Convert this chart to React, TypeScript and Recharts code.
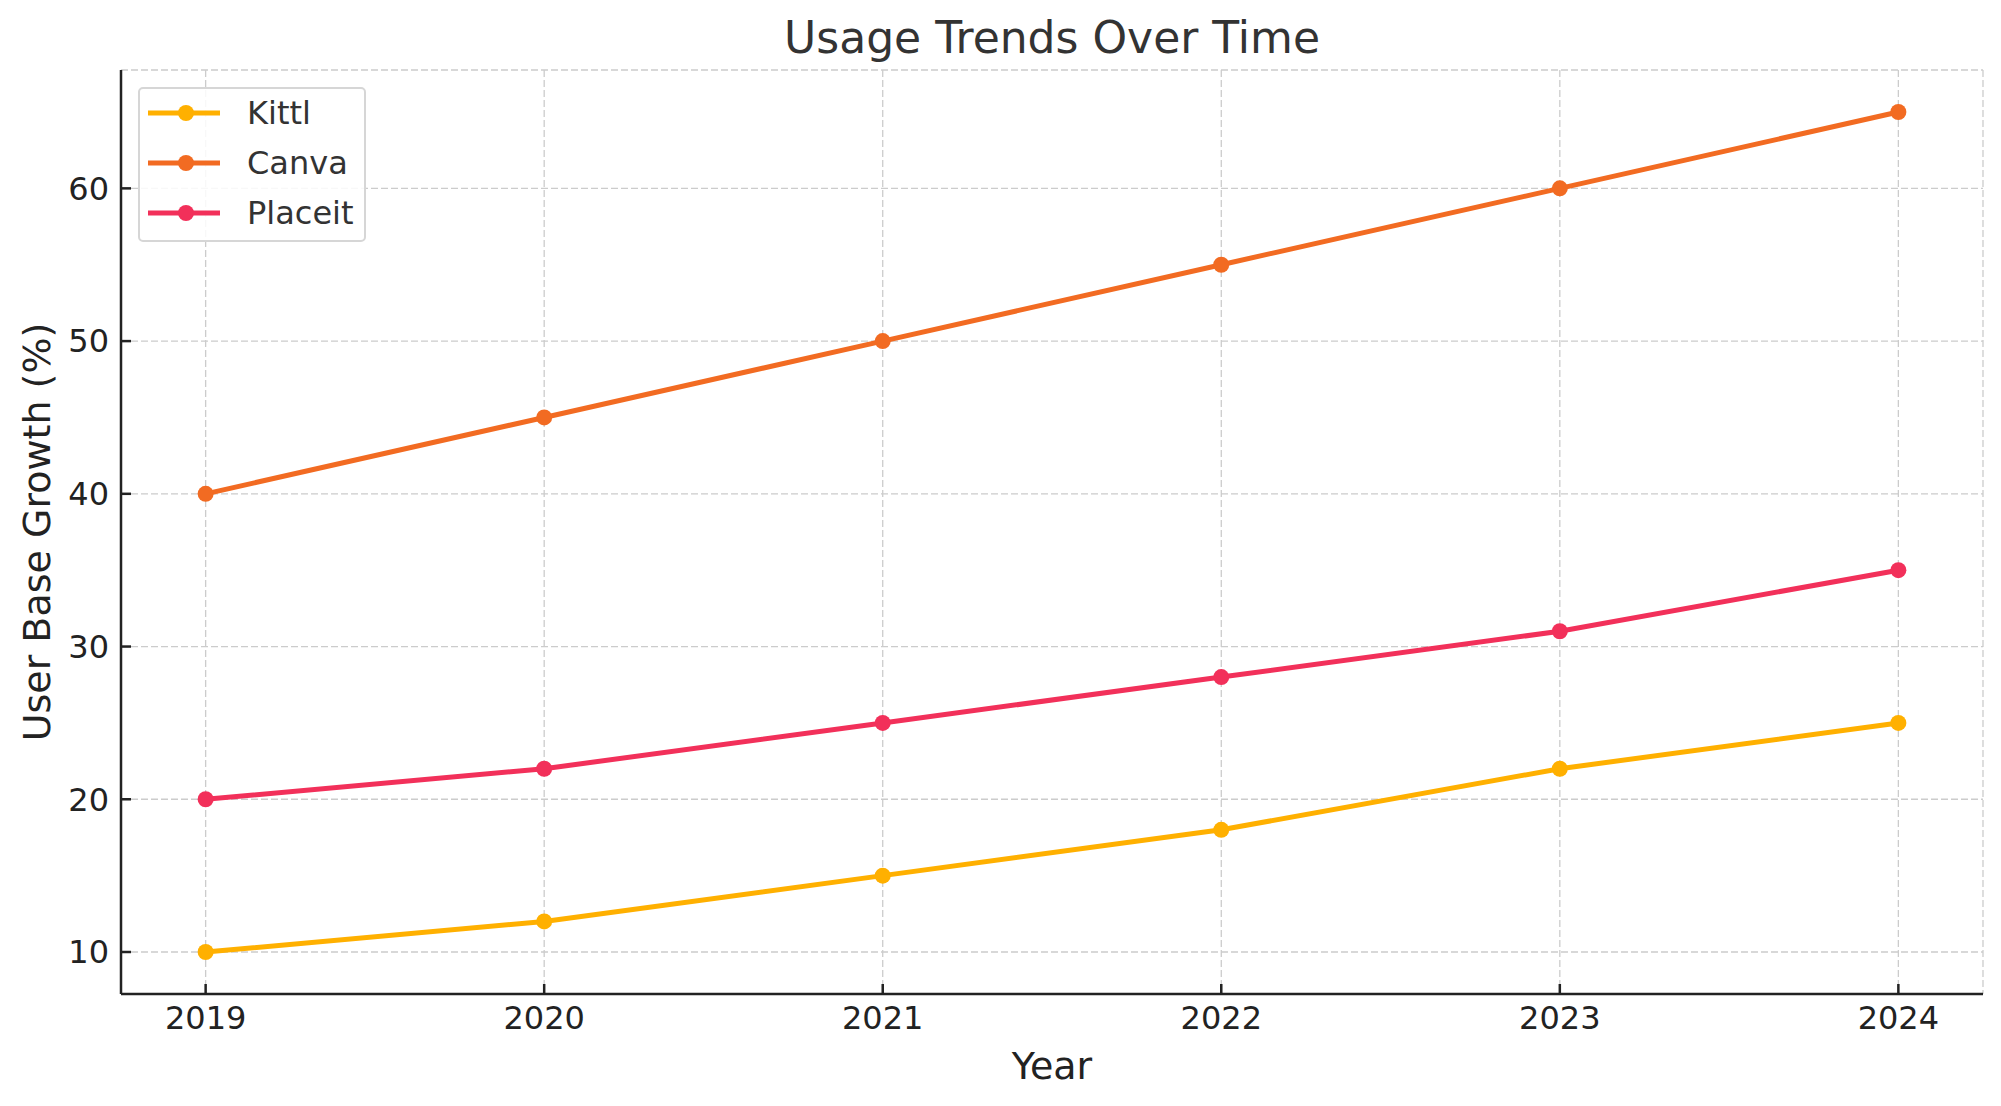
import React from 'react';
import { LineChart, Line, XAxis, YAxis, CartesianGrid, Legend } from 'recharts';

const years = [2019, 2020, 2021, 2022, 2023, 2024];
const kittl = [10, 12, 15, 18, 22, 25];
const canva = [40, 45, 50, 55, 60, 65];
const placeit = [20, 22, 25, 28, 31, 35];
const yTicks = [10, 20, 30, 40, 50, 60];

const seriesNames = ['Kittl', 'Canva', 'Placeit'];
const seriesColors = ['#FFB000', '#F26B22', '#F2305A'];

const data = years.map((y, i) => ({ year: y, Kittl: kittl[i], Canva: canva[i], Placeit: placeit[i] }));

const FONT = '"DejaVu Sans", Verdana, sans-serif';

const LegendBox = () => (
  <div
    style={{
      width: 228,
      height: 155,
      border: '2px solid #d6d6d6',
      borderRadius: 5,
      background: 'rgba(255,255,255,0.85)',
      boxSizing: 'border-box',
      position: 'relative',
      fontFamily: FONT,
    }}
  >
    {seriesNames.map((n, i) => (
      <div key={n} style={{ position: 'absolute', left: 0, top: 26 + i * 50 - 25 - 2, height: 50, width: 226 }}>
        <svg width={90} height={50} style={{ position: 'absolute', left: 8, top: 0 }}>
          <line x1={0} y1={25} x2={72} y2={25} stroke={seriesColors[i]} strokeWidth={5} />
          <circle cx={38} cy={25} r={8} fill={seriesColors[i]} />
        </svg>
        <div
          style={{
            position: 'absolute',
            left: 107,
            top: 0,
            height: 50,
            lineHeight: '50px',
            fontSize: 32,
            color: '#333',
            whiteSpace: 'nowrap',
          }}
        >
          {n}
        </div>
      </div>
    ))}
  </div>
);

export default function App() {
  return (
    <div style={{ position: 'absolute', left: 0, top: 0, width: 2001, height: 1106, background: '#fff' }}>
      <LineChart
        width={2001}
        height={1106}
        data={data}
        margin={{ top: 70, right: 18, bottom: 0, left: 0 }}
      >
        <CartesianGrid stroke="#cccccc" strokeDasharray="7 3" strokeWidth={1.3} />
        <XAxis
          dataKey="year"
          type="number"
          domain={[2018.75, 2024.25]}
          ticks={years}
          height={112}
          tickSize={-10}
          tickMargin={22}
          axisLine={{ stroke: '#222', strokeWidth: 2.5 }}
          tickLine={{ stroke: '#222', strokeWidth: 2.5 }}
          tick={{ fill: '#222', fontSize: 32, fontFamily: FONT }}
          allowDataOverflow
        />
        <YAxis
          type="number"
          domain={[7.25, 67.75]}
          ticks={yTicks}
          width={121}
          tickSize={-10}
          tickMargin={22}
          axisLine={{ stroke: '#222', strokeWidth: 2.5 }}
          tickLine={{ stroke: '#222', strokeWidth: 2.5 }}
          tick={{ fill: '#222', fontSize: 32, fontFamily: FONT }}
          allowDataOverflow
        />
        <Legend
          layout="vertical"
          align="center"
          verticalAlign="middle"
          content={() => <LegendBox />}
          wrapperStyle={{ position: 'absolute', left: 138, top: 87, width: 228, height: 155 }}
        />
        {seriesNames.map((n, i) => (
          <Line
            key={n}
            type="linear"
            dataKey={n}
            stroke={seriesColors[i]}
            strokeWidth={5}
            dot={{ r: 8, fill: seriesColors[i], stroke: 'none' }}
            activeDot={false}
            isAnimationActive={false}
          />
        ))}
      </LineChart>
      <svg
        width={2001}
        height={1106}
        style={{ position: 'absolute', left: 0, top: 0, pointerEvents: 'none' }}
      >
        <text x={1052} y={53} textAnchor="middle" fontSize={44} fill="#333" fontFamily={FONT}>
          Usage Trends Over Time
        </text>
        <text x={1052} y={1079} textAnchor="middle" fontSize={38} fill="#222" fontFamily={FONT}>
          Year
        </text>
        <text
          x={50}
          y={532}
          textAnchor="middle"
          fontSize={38}
          fill="#222"
          fontFamily={FONT}
          transform="rotate(-90 50 532)"
        >
          User Base Growth (%)
        </text>
      </svg>
    </div>
  );
}
